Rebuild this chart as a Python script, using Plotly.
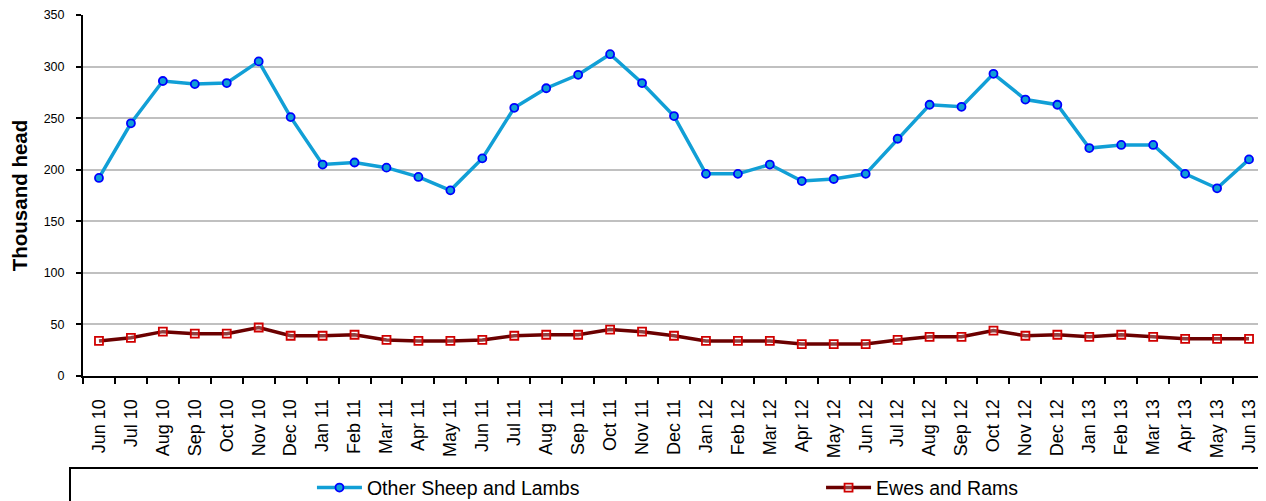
import plotly.graph_objects as go

months = ['Jun 10', 'Jul 10', 'Aug 10', 'Sep 10', 'Oct 10', 'Nov 10', 'Dec 10',
          'Jan 11', 'Feb 11', 'Mar 11', 'Apr 11', 'May 11', 'Jun 11', 'Jul 11',
          'Aug 11', 'Sep 11', 'Oct 11', 'Nov 11', 'Dec 11', 'Jan 12', 'Feb 12',
          'Mar 12', 'Apr 12', 'May 12', 'Jun 12', 'Jul 12', 'Aug 12', 'Sep 12',
          'Oct 12', 'Nov 12', 'Dec 12', 'Jan 13', 'Feb 13', 'Mar 13', 'Apr 13',
          'May 13', 'Jun 13']

other_sheep = [192, 245, 286, 283, 284, 305, 251, 205, 207, 202, 193, 180, 211,
               260, 279, 292, 312, 284, 252, 196, 196, 205, 189, 191, 196, 230,
               263, 261, 293, 268, 263, 221, 224, 224, 196, 182, 210]

ewes_rams = [34, 37, 43, 41, 41, 47, 39, 39, 40, 35, 34, 34, 35, 39, 40, 40, 45,
             43, 39, 34, 34, 34, 31, 31, 31, 35, 38, 38, 44, 39, 40, 38, 40, 38,
             36, 36, 36]

fig = go.Figure()
fig.add_trace(go.Scatter(
    x=months, y=other_sheep, name='Other Sheep and Lambs', mode='lines+markers',
    line=dict(color='#119FD6', width=3.5),
    marker=dict(symbol='circle', size=8, color='#119FD6',
                line=dict(color='#0000FF', width=1.8)),
    legend='legend'
))
fig.add_trace(go.Scatter(
    x=months, y=ewes_rams, name='Ewes and Rams', mode='lines+markers',
    line=dict(color='#6B0000', width=3.5),
    marker=dict(symbol='square', size=8, color='rgba(255,255,255,0.25)',
                line=dict(color='#D00000', width=1.8)),
    legend='legend2'
))

# legend frame spans the whole bottom like the original
fig.add_shape(type='rect', xref='paper', yref='paper',
              x0=-0.011, x1=1.0, y0=-0.4, y1=-0.255,
              line=dict(color='black', width=2), fillcolor='white', layer='below')

legend_font = dict(family='Liberation Sans, Arial, sans-serif', size=19.5)
# page body has an 8px margin; figure made a bit taller so the legend doesn't push the plot up
fig.update_layout(
    width=1258, height=520,
    paper_bgcolor='white', plot_bgcolor='white',
    font=dict(family='Liberation Sans, Arial, sans-serif', color='black'),
    margin=dict(l=75, r=1, t=7, b=152),
    showlegend=True,
    legend=dict(orientation='h', x=0.1937, xanchor='left', y=-0.31, yanchor='middle',
                itemwidth=45, font=legend_font, bgcolor='rgba(0,0,0,0)'),
    legend2=dict(orientation='h', x=0.6244, xanchor='left', y=-0.31, yanchor='middle',
                 itemwidth=45, font=legend_font, bgcolor='rgba(0,0,0,0)'),
)
fig.update_xaxes(
    type='category', range=[-0.5, 36.5], tickangle=-90, automargin=False,
    tickfont=dict(size=18), showgrid=False, ticklabelstandoff=14,
    showline=True, linecolor='black', linewidth=2,
    ticks='outside', tickson='boundaries', ticklen=6, tickwidth=2, tickcolor='black'
)
fig.update_yaxes(
    range=[0, 350], dtick=50, tickfont=dict(size=12.5), automargin=False,
    showgrid=True, gridcolor='#C0C0C0', gridwidth=1.5,
    showline=True, linecolor='black', linewidth=2,
    ticks='outside', ticklen=5, tickwidth=2, tickcolor='black', ticklabelstandoff=9,
    title=dict(text='<b>Thousand head</b>', font=dict(size=20.5), standoff=20),
    zeroline=False
)

fig.write_html('out.html')
